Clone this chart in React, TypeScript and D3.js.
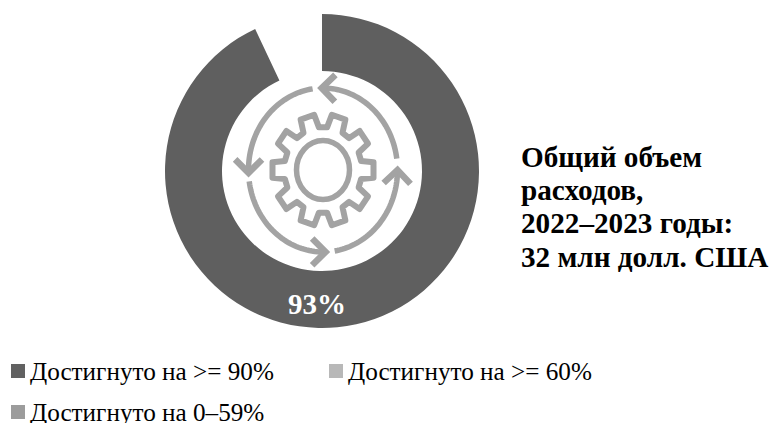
import React from "react";
import * as d3 from "d3";

const categories = ["Достигнуто на >= 90%", "Достигнуто на >= 60%", "Достигнуто на 0–59%"];
const legendColors = ["#616161", "#b8b8b8", "#9c9c9c"];
const shares = [93, 7];
const sliceColors = ["#5f5f5f", "none"];
const titleLines = ["Общий объем", "расходов,", "2022–2023 годы:", "32 млн долл. США"];

const cx = 322;
const cy = 171;
const iconColor = "#a3a3a3";
const fontFamily = "'Liberation Serif', serif";

// gear icon is slightly taller than wide, same as in the source picture
const iconCx = 323;
const iconCy = 170;
const yStretch = 1.1;

const polar = (deg: number, r: number): [number, number] => {
  const a = (deg * Math.PI) / 180;
  return [iconCx + r * Math.sin(a), iconCy - r * yStretch * Math.cos(a)];
};

const gearPath = () => {
  const teeth = 10;
  const step = 360 / teeth;
  const pts: [number, number][] = [];
  for (let i = 0; i < teeth; i++) {
    const mid = i * step + 18;
    pts.push(polar(mid - 12, 39));
    pts.push(polar(mid - 8, 51));
    pts.push(polar(mid + 8, 51));
    pts.push(polar(mid + 12, 39));
  }
  return d3.line().curve(d3.curveLinearClosed)(pts) as string;
};

// start and end angle of every circling arrow, clockwise from the top
const arrowArcs = [
  [-8, -92],
  [82, -1],
  [171, 90],
  [262, 178],
];
const iconRadius = 74.5;

const arcLine = (from: number, to: number) => {
  const angles = d3.range(0, 41).map((i) => from + ((to - from) * i) / 40);
  return d3.line()(angles.map((a) => polar(a, iconRadius))) as string;
};

const headLine = (from: number, to: number) => {
  const tip = polar(to, iconRadius);
  const back = polar(to + (from - to) * 0.05, iconRadius);
  const dir = Math.atan2(back[1] - tip[1], back[0] - tip[0]);
  const wing = (d: number): [number, number] => [
    tip[0] + 19 * Math.cos(dir + d),
    tip[1] + 19 * Math.sin(dir + d),
  ];
  return d3.line()([wing(Math.PI / 4), tip, wing(-Math.PI / 4)]) as string;
};

export default function App() {
  const pie = d3.pie<number>().sort(null)(shares);
  const arc = d3.arc<d3.PieArcDatum<number>>().innerRadius(100).outerRadius(157);
  const labelPos = d3
    .arc<d3.PieArcDatum<number>>()
    .innerRadius(100)
    .outerRadius(157)
    .centroid({ ...pie[0], startAngle: Math.PI, endAngle: Math.PI });

  return (
    <svg
      width={770}
      height={423}
      style={{ position: "absolute", left: 0, top: 0, background: "#fff" }}
      fontFamily={fontFamily}
    >
      <g transform={`translate(${cx},${cy})`}>
        {pie.map((d, i) => (
          <path key={i} d={arc(d) as string} fill={sliceColors[i]} />
        ))}
        <text
          x={labelPos[0] - 5}
          y={labelPos[1] + 14}
          textAnchor="middle"
          fontSize={29}
          fontWeight="bold"
          fill="#fff"
        >
          {shares[0]}%
        </text>
      </g>

      <g fill="none" stroke={iconColor}>
        <path d={gearPath()} strokeWidth={6} strokeLinejoin="round" />
        <ellipse cx={iconCx} cy={iconCy} rx={26.5} ry={29.5} strokeWidth={5.5} />
        {arrowArcs.map(([from, to], i) => (
          <g key={i} strokeWidth={5.5}>
            <path d={arcLine(from, to)} />
            <path d={headLine(from, to)} strokeWidth={6.5} />
          </g>
        ))}
      </g>

      <text fontSize={29.2} fontWeight="bold" fill="#000">
        {titleLines.map((line, i) => (
          <tspan key={i} x={521} y={167 + i * 33.2}>
            {line}
          </tspan>
        ))}
      </text>

      {categories.map((c, i) => {
        const x = i === 1 ? 329 : 11;
        const y = i === 2 ? 405 : 364;
        return (
          <g key={c}>
            <rect x={x} y={y} width={14} height={14} fill={legendColors[i]} />
            <text x={x + 19} y={y + 16} fontSize={25.2} fill="#000">
              {c}
            </text>
          </g>
        );
      })}
    </svg>
  );
}
